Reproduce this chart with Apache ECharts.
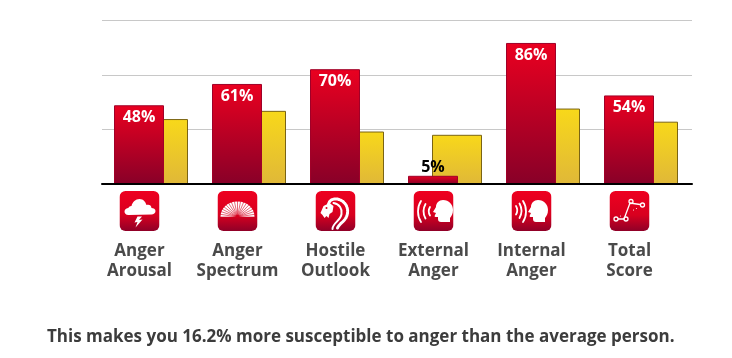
<!DOCTYPE html>
<html lang="en">
<head>
    <meta charset="UTF-8">
    <title>Anger scores</title>
    <script src="https://cdn.jsdelivr.net/npm/echarts/dist/echarts.min.js"></script>
</head>
<body style="margin: 0; background: #fff">
    <div id="chart" style="width: 732px; height: 358px;"></div>
    <script>
        const categories = ['Anger Arousal', 'Anger Spectrum', 'Hostile Outlook', 'External Anger', 'Internal Anger', 'Total Score'];
        const yourScore = [48, 61, 70, 5, 86, 54];
        const averageScore = [39.6, 44.6, 32, 30, 46, 38];
        const summary = 'This makes you 16.2% more susceptible to anger than the average person.';

        // white glyphs for the six icons, drawn on a 40x40 box
        const head = 'M10 0c6 0 10 4.500 10 10 0 4-1.500 6-3 8v4H8c-2 0-3-1-3-3v-2H2.500c-1 0-1-1-.5-2l1-2-3-1 3-5C3 3 6 0 10 0z';
        const spokes = Array.from({ length: 19 }, function (_, i) {
            const a = Math.PI * i / 18;
            return '<path d="M20 26L' + (20 + 18 * Math.cos(a)).toFixed(1) + ' ' + (26 - 16 * Math.sin(a)).toFixed(1) + '" stroke="#d5001f" stroke-width=".6"/>';
        }).join('');
        const glyphs = [
            '<path fill="#fff" d="M9 24c-3 0-4-2-4-3.500 0-2 2-3.500 4-3.500 0-1 1-2 3-2 1-4 4-7 8-7 4 0 6 3 7 6 2-1 5 0 5 3 2 0 4 1 4 3 0 2-2 3.500-4 3.500z"/><path fill="#fff" d="M18 25.500l-3 6 3-.5-2 5.500 7-8-3.500.5 3-3.500z"/>',
            '<path fill="#fff" d="M3 26C3 17 10 10.500 20 10.500S37 17 37 26z"/>' + spokes + '<path fill="#d5001f" d="M18 26a2 2 0 014 0z"/>',
            '<g fill="none" stroke="#fff" stroke-linecap="round"><path stroke-width="2" d="M17 38c0-6 8-8 9-15 1-5-2-10-8-11"/><path stroke-width="3" stroke-dasharray="1.500 1" d="M22 37c2-5 9-7 10-15 1-8-5-14-12-14-4 0-6 2-7 5"/></g><path fill="#fff" d="M5 22l3-7 6-3 4 3-1 6-3 2-1 4-2-2-2 2-2-3z"/><circle cx="11" cy="17" r="1" fill="#d5001f"/>',
            '<path fill="#fff" transform="translate(19.500 9)" d="' + head + '"/><g fill="none" stroke="#fff" stroke-width="1.800" stroke-linecap="round"><path d="M16.500 16c-1.500 2.500-1.500 6 0 8.500"/><path d="M12 13c-2.500 4.500-2.500 10 0 14.500"/><path d="M7.500 10c-4 6-4 15 0 21"/></g>',
            '<path fill="#fff" transform="translate(16.500 9)" d="' + head + '"/><g fill="none" stroke="#fff" stroke-width="1.800" stroke-linecap="round"><path d="M4.500 15c1.500 2.500 1.500 6 0 8.500"/><path d="M8 12.500c2.500 4.500 2.500 10 0 14.500"/><path d="M11.500 10c4 6 4 15 0 21"/></g>',
            '<g fill="none" stroke="#fff" stroke-width="1.300"><path d="M8.500 28h6l6-16 10 1.500"/><circle cx="6.500" cy="28" r="2"/><circle cx="16.500" cy="28" r="2"/><circle cx="21.500" cy="10.500" r="2"/><circle cx="33" cy="14" r="2"/></g><g fill="#fff"><circle cx="11" cy="25" r=".6"/><circle cx="24" cy="19" r=".6"/><circle cx="27" cy="17.500" r=".6"/></g>'
        ];

        function iconUri(glyph) {
            const svg = '<svg xmlns="http://www.w3.org/2000/svg" width="40" height="40" viewBox="0 0 40 40">'
                + '<defs><linearGradient id="g" x1="0" y1="0" x2="0" y2="1"><stop offset="0" stop-color="#ee0020"/><stop offset=".6" stop-color="#d8001f"/><stop offset="1" stop-color="#8f0028"/></linearGradient></defs>'
                + '<rect width="40" height="40" rx="6" fill="url(#g)"/>' + glyph + '</svg>';
            return 'data:image/svg+xml;charset=utf-8,' + encodeURIComponent(svg);
        }

        const labelRich = {
            gap: { fontSize: 1, lineHeight: 10 },
            word: { fontFamily: 'Open Sans', fontWeight: 'bold', fontSize: 17, color: '#4a4a4a', lineHeight: 20 }
        };
        glyphs.forEach(function (glyph, i) {
            labelRich['icon' + i] = { width: 40, height: 40, lineHeight: 40, backgroundColor: { image: iconUri(glyph) } };
        });

        function vertical(from, to) {
            return { type: 'linear', x: 0, y: 0, x2: 0, y2: 1, colorStops: [{ offset: 0, color: from }, { offset: 1, color: to }] };
        }

        const myChart = echarts.init(document.getElementById('chart'));

        const option = {
            animation: false,
            title: {
                text: summary,
                left: 47,
                top: 329,
                textStyle: { fontFamily: 'Open Sans', fontWeight: 'bold', fontSize: 17, color: '#3c3c3c' },
                padding: 0
            },
            grid: [
                // bars sit on a 98px step
                { left: 102, top: 20, width: 588, height: 164 },
                // rules run 2px further right than the last category
                { left: 102, top: 20.5, width: 590, height: 163.5 }
            ],
            xAxis: [
                {
                    type: 'category',
                    gridIndex: 0,
                    data: categories,
                    axisLine: { show: false },
                    axisTick: { show: false },
                    axisLabel: {
                        interval: 0,
                        margin: 7,
                        lineHeight: 20,
                        padding: [0, 23, 0, 0],
                        rich: labelRich,
                        formatter: function (value, index) {
                            const parts = value.split(' ');
                            return '{icon' + index + '| }\n{gap| }\n{word|' + parts[0] + '}\n{word|' + parts[1] + '}';
                        }
                    }
                },
                {
                    type: 'category',
                    gridIndex: 1,
                    data: categories,
                    z: 5,
                    axisLine: { lineStyle: { color: '#000', width: 2 } },
                    axisTick: { show: false },
                    axisLabel: { show: false }
                }
            ],
            yAxis: [
                { type: 'value', gridIndex: 0, min: 0, max: 100, show: false },
                {
                    type: 'value',
                    gridIndex: 1,
                    min: 0,
                    max: 100,
                    interval: 100 / 3,
                    axisLine: { show: false },
                    axisTick: { show: false },
                    axisLabel: { show: false },
                    splitLine: { lineStyle: { color: '#c8c8c8', width: 1 } }
                }
            ],
            series: [
                {
                    type: 'bar',
                    xAxisIndex: 0,
                    yAxisIndex: 0,
                    barWidth: 50,
                    barGap: '-52%',
                    z: 3,
                    data: yourScore.map(function (v) {
                        // a bar this short cannot hold its label
                        return v < 10 ? { value: v, label: { position: 'top', distance: 0, color: '#000' } } : v;
                    }),
                    itemStyle: { color: vertical('#ea0020', '#880028'), borderColor: '#a00028', borderWidth: 1 },
                    label: {
                        show: true,
                        position: 'insideTop',
                        distance: 4,
                        formatter: '{c}%',
                        fontFamily: 'Open Sans',
                        fontWeight: 'bold',
                        fontSize: 16,
                        color: '#fff'
                    }
                },
                {
                    type: 'bar',
                    xAxisIndex: 0,
                    yAxisIndex: 0,
                    barWidth: 50,
                    z: 2,
                    data: averageScore,
                    itemStyle: { color: vertical('#f8d81a', '#e0b838'), borderColor: '#7a6414', borderWidth: 1 }
                }
            ]
        };

        myChart.setOption(option);
    </script>
</body>
</html>
